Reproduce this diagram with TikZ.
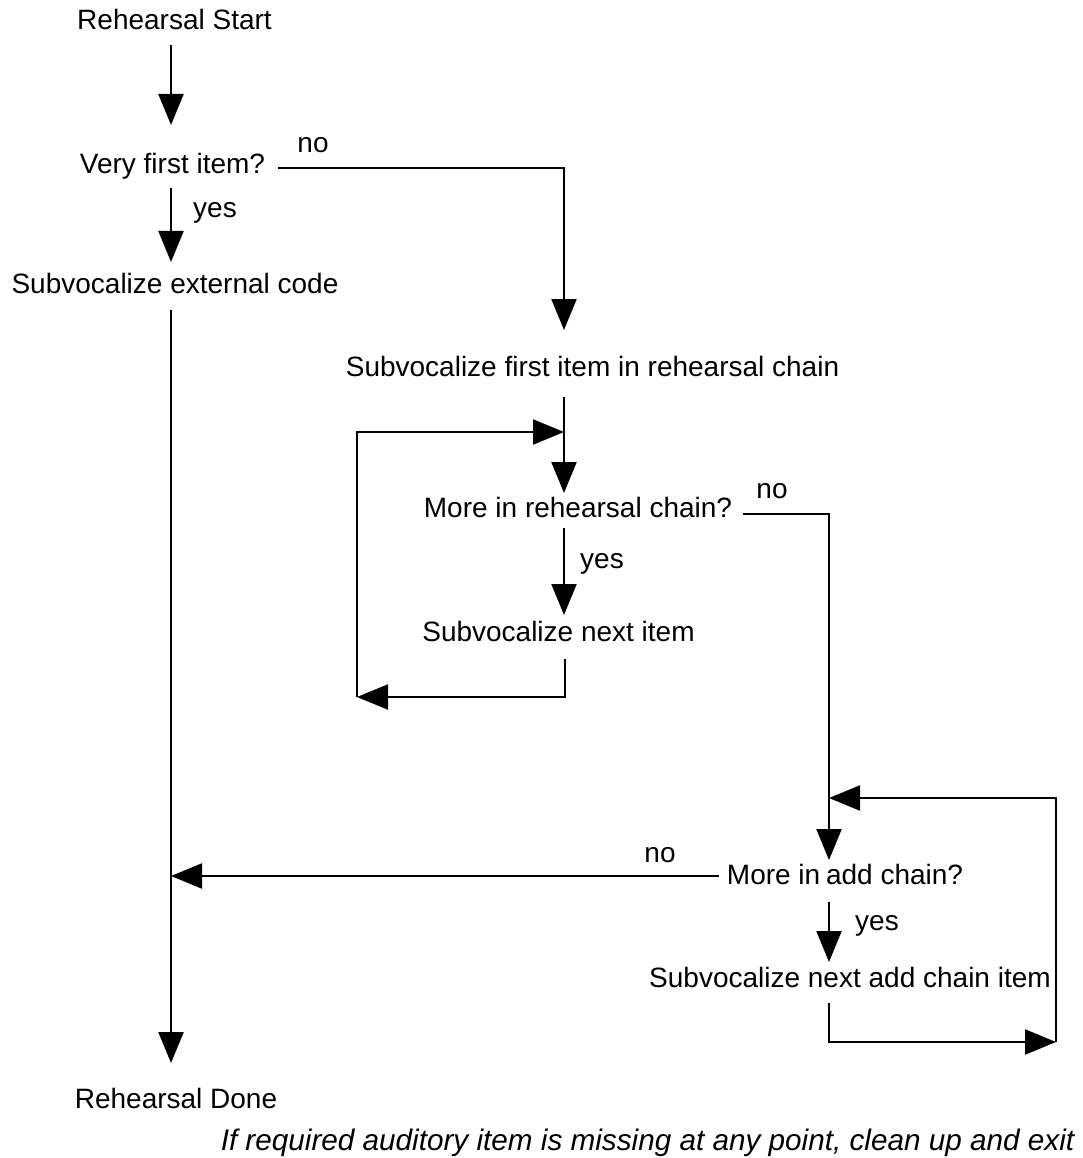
\documentclass[tikz,border=0pt]{standalone}
\usepackage{fontspec}
\setmainfont{Liberation Sans}
\usetikzlibrary{arrows.meta,calc}

\begin{document}
\begin{tikzpicture}[x=1pt,y=-1pt,
  lbl/.style={font=\fontsize{28}{34}\selectfont, inner sep=0pt, anchor=base},
  note/.style={font=\fontsize{29.7}{35}\selectfont\itshape, inner sep=0pt, anchor=base},
  flow/.style={line width=2.2pt, -{Triangle[length=31pt,width=25pt]}},
  wire/.style={line width=2.2pt}]
\useasboundingbox (0,0) rectangle (1082,1158);

% column positions of the vertical connectors
\coordinate (colA) at (171,0);
\coordinate (colB) at (564,0);
\coordinate (colC) at (829,0);
\coordinate (loopL) at (357,0);
\coordinate (loopR) at (1056,0);

% steps
\node[lbl] (start)    at (174.5,30)  {Rehearsal Start};
\node[lbl] (first)    at (172.5,174) {Very first item?};
\node[lbl] (external) at (175,293)   {Subvocalize external code};
\node[lbl] (chainone) at (592.5,376) {Subvocalize first item in rehearsal chain};
\node[lbl] (moreReh)  at (578,517)   {More in rehearsal chain?};
\node[lbl] (nextItem) at (558.5,641) {Subvocalize next item};
\node[lbl] (moreAdd)  at (845,884)   {More in\hspace{-2pt} add chain?};
\node[lbl] (nextAdd)  at (850,987)   {Subvocalize next add chain item};
\node[lbl] (done)     at (176,1108)  {Rehearsal Done};
\node[note] (exitnote) at (647.5,1150) {If required auditory item is missing at any point, clean up and exit};

% branch labels
\node[lbl] (noA)  at (313,153) {no};
\node[lbl] (yesA) at (215,218) {yes};
\node[lbl] (noB)  at (772,498) {no};
\node[lbl] (yesB) at (602,568) {yes};
\node[lbl] (noC)  at (660,862) {no};
\node[lbl] (yesC) at (877,930) {yes};

% main column
\draw[flow, shorten <=15pt, shorten >=49pt] (start.base -| colA) -- (first.base -| colA);
\draw[flow, shorten <=14pt, shorten >=31pt] (first.base -| colA) -- (external.base -| colA);
\draw[flow, shorten <=17pt, shorten >=45pt] (external.base -| colA) -- (done.base -| colA);

% "no" from the first decision
\coordinate (firstNo) at ($(first.base east)+(13,-6)$);
\coordinate (chainIn) at ($(chainone.base -| colB)+(0,-46)$);
\draw[flow] (firstNo) -| (chainIn);

% rehearsal chain
\draw[flow, shorten <=21pt, shorten >=24pt] (chainone.base -| colB) -- (moreReh.base -| colB);
\draw[flow, shorten <=11pt, shorten >=26pt] (moreReh.base -| colB) -- (nextItem.base -| colB);

% loop back around the rehearsal chain
\coordinate (nextOut) at ($(nextItem.base -| colB)+(1,18)$);
\coordinate (loopBot) at ($(nextItem.base -| loopL)+(0,56)$);
\coordinate (loopTop) at ($(chainone.base -| loopL)+(0,56)$);
\draw[flow] (nextOut) |- (loopBot);
\draw[flow] (loopBot) -- (loopTop) -- (loopTop -| colB);

% "no" from the rehearsal chain decision
\coordinate (rehNo) at ($(moreReh.base east)+(11,-3)$);
\coordinate (addIn) at ($(moreAdd.base -| colC)+(0,-24)$);
\draw[flow] (rehNo) -| (addIn);

% add chain
\draw[flow, shorten <=18pt, shorten >=25pt] (moreAdd.base -| colC) -- (nextAdd.base -| colC);
\coordinate (addOut) at ($(nextAdd.base -| colC)+(0,16)$);
\coordinate (addBot) at ($(nextAdd.base -| loopR)+(0,55)$);
\coordinate (addTop) at ($(moreAdd.base -| loopR)+(0,-86)$);
\draw[flow] (addOut) |- (addBot);
\draw[flow] (addBot) -- (addTop) -- (addTop -| colC);

% "no" from the add chain decision
\coordinate (addNo) at ($(moreAdd.base west)+(-8,-8)$);
\draw[flow] (addNo) -- (addNo -| colA);
\end{tikzpicture}
\end{document}
